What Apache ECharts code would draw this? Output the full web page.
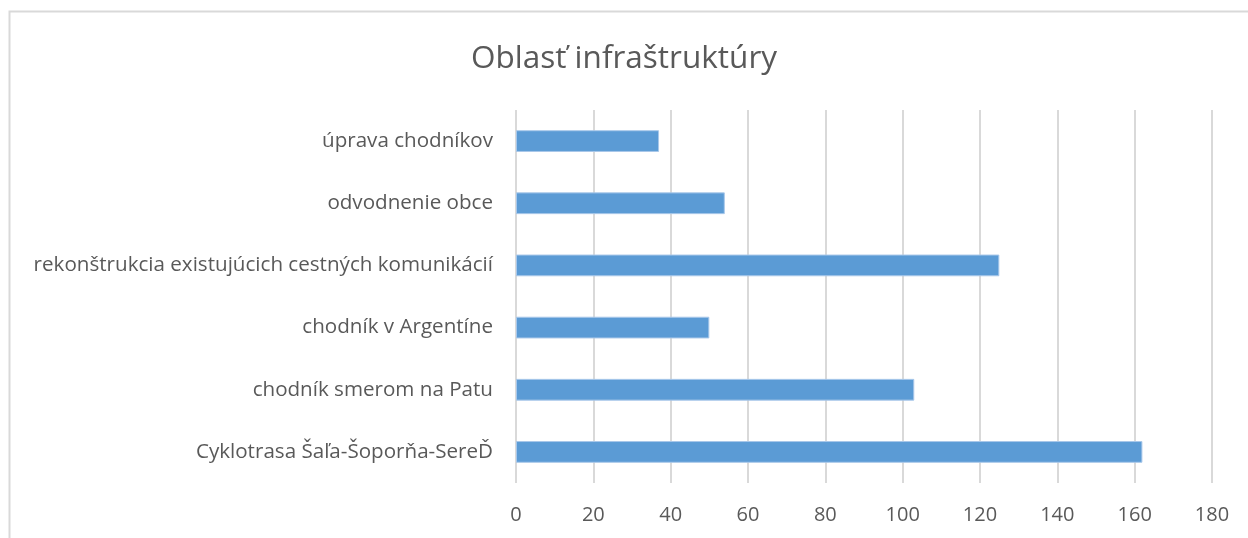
<!DOCTYPE html>
<html>
<head>
<meta charset="utf-8">
<script src="https://cdn.jsdelivr.net/npm/echarts@6/dist/echarts.min.js"></script>
<style>
  html, body { margin: 0; padding: 0; background: #fff; }
  #chart { width: 1248px; height: 538px; }
</style>
</head>
<body>
<div id="chart"></div>
<script>
// kategórie (zhora nadol) a hodnoty
var categories = [
  'úprava chodníkov',
  'odvodnenie obce',
  'rekonštrukcia existujúcich cestných komunikácií',
  'chodník v Argentíne',
  'chodník smerom na Patu',
  'Cyklotrasa Šaľa-Šoporňa-SereĎ'
];
var values = [37, 54, 125, 50, 103, 162];

var chart = echarts.init(document.getElementById('chart'));
chart.setOption({
  animation: false,
  textStyle: { fontFamily: 'Open Sans' },
  title: {
    text: 'Oblasť infraštruktúry',
    left: 'center',
    top: 38,
    textStyle: {
      color: '#595959',
      fontSize: 31.5,
      fontWeight: 'normal',
      fontFamily: 'Open Sans'
    }
  },
  graphic: [{
    type: 'rect',
    shape: { x: 9.5, y: 11.5, width: 1300, height: 600 },
    style: { fill: 'none', stroke: '#d9d9d9', lineWidth: 2 },
    silent: true
  }],
  grid: {
    left: 516,
    right: 36,
    top: 110,
    bottom: 55
  },
  xAxis: {
    type: 'value',
    min: 0,
    max: 180,
    interval: 20,
    axisLine: { show: false },
    axisTick: { show: false },
    axisLabel: {
      color: '#595959',
      fontSize: 20,
      margin: 22
    },
    splitLine: {
      lineStyle: { color: '#d9d9d9', width: 2 }
    }
  },
  yAxis: {
    type: 'category',
    inverse: true,
    data: categories,
    axisLine: { show: false },
    axisTick: { show: false },
    axisLabel: {
      color: '#595959',
      fontSize: 20.6,
      margin: 23
    }
  },
  series: [{
    type: 'bar',
    data: values,
    barCategoryGap: '65%',
    itemStyle: {
      color: '#5b9bd5',
      borderColor: '#a9c8ea',
      borderWidth: 1
    }
  }]
});
</script>
</body>
</html>
